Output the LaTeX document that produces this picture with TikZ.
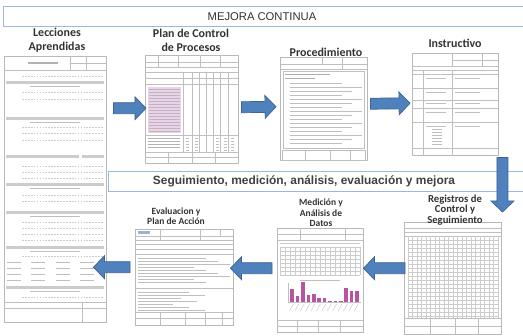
\documentclass[tikz,border=0pt]{standalone}
\usepackage{fontspec}
\setmainfont{Carlito}
\newfontfamily\arial{Liberation Sans}
\usetikzlibrary{calc}

\definecolor{azulflecha}{RGB}{79,129,189}
\definecolor{bordeflecha}{RGB}{60,100,152}
\definecolor{marco}{RGB}{155,185,220}
\definecolor{rosa}{RGB}{236,208,236}
\definecolor{barrarosa}{RGB}{185,85,160}

\newcommand{\tgrande}{\bfseries\fontsize{10.2}{12}\selectfont}
\newcommand{\tmedio}{\bfseries\fontsize{9.1}{9.2}\selectfont}
\newcommand{\tchico}{\bfseries\fontsize{8.1}{9}\selectfont}

\tikzset{
  hoja/.style 2 args={draw=gray!55, fill=white, inner sep=0pt, anchor=north west,
    minimum width=#1*0.03cm, minimum height=#2*0.03cm},
  renglon/.style={gray!50, line width=0.3pt},
  punteado/.style={gray!40, dash pattern=on 1.5pt off 1pt, line width=0.3pt},
  rejilla/.style={gray!40, line width=0.25pt},
  titulo/.style={align=center, text=black!80, inner sep=0pt},
  bloque/.style={fill=azulflecha, draw=bordeflecha, line width=0.6pt},
}

% flecha de bloque de #1 a #2
\newcommand{\flecha}[2]{%
  \coordinate (fa) at #1;
  \coordinate (fb) at #2;
  \coordinate (fh) at ($(fb)!9.4pt!(fa)$);
  \filldraw[bloque] ($(fa)!4.7pt!90:(fb)$) -- ($(fh)!4.7pt!-90:(fa)$) -- ($(fh)!9.8pt!-90:(fa)$)
    -- (fb) -- ($(fh)!9.8pt!90:(fa)$) -- ($(fh)!4.7pt!90:(fa)$) -- ($(fa)!4.7pt!-90:(fb)$) -- cycle;}

\begin{document}
\begin{tikzpicture}[x=0.03cm, y=-0.03cm]
  \useasboundingbox (0,0) rectangle (523,336);
  \fill[white] (0,0) rectangle (523,336);

  % bandas
  \draw[marco, line width=0.8pt] (3,6) rectangle (540,26);
  \node[font=\arial\fontsize{9.6}{11}\selectfont, text=black!80] (mejora) at (262,16.5) {MEJORA CONTINUA};
  \draw[marco, line width=0.8pt] (108,171) rectangle (540,191);
  \node[font=\arial\bfseries\fontsize{10.2}{11}\selectfont, text=black!75] (seguim) at (304,181)
    {Seguimiento, medición, análisis, evaluación y mejora};

  % Lecciones aprendidas
  \node[hoja={102}{266}] (lecc) at (4,56) {};
  \draw[renglon] (4,70) -- (106,70) (70,56) -- (70,70) (86,56) -- (86,70) (70,63) -- (106,63);
  \fill[gray!60] (28,62) rectangle (58,64);
  \foreach \y in {81,117,183,211,246,286} \fill[gray!40] (6,\y) rectangle (104,\y+3);
  \fill[gray!40] (6,155) rectangle (79,158);
  \fill[gray!40] (82,155) rectangle (104,158);
  \foreach \y in {86,122,188,216,251,291} \draw[renglon] (30,\y) -- (80,\y);
  \foreach \y in {76,92,99,127,133,140,166,172,178,195,201,222,228,234,240,256,297}
    \draw[punteado] (22,\y) -- (104,\y);
  \foreach \y in {262,268,274,280} \foreach \x in {7,31,56,80}
    \draw[renglon] (\x,\y) -- (\x+14,\y);
  \draw[renglon] (4,302) -- (106,302) (4,308) -- (106,308) (82,302) -- (82,322);

  % Plan de control
  \node[hoja={93}{108}] (plan) at (145,55) {};
  \foreach \y in {62,67,72,78,84,135,152,157} \draw[renglon] (145,\y) -- (238,\y);
  \foreach \x in {158,178,200,220} \draw[renglon] (\x,55) -- (\x,67);
  \foreach \x in {183,192,199,206,213,220,228} \draw[renglon] (\x,72) -- (\x,152);
  \fill[rosa] (148,87) rectangle (181,133);
  \foreach \y in {89,92,...,131} \draw[gray!55, line width=0.3pt] (149,\y) -- (180,\y);
  \foreach \y in {138,141,144,147} \draw[gray!60, line width=0.3pt] (148,\y) -- (180,\y);
  \foreach \x in {186,195,216,224,231} \foreach \y in {138,141,...,150}
    \draw[renglon] (\x,\y) -- (\x+3,\y);
  \foreach \x in {168,192,215} \draw[renglon] (\x,152) -- (\x,163);

  % Procedimiento
  \node[hoja={87}{103}] (proc) at (280,57) {};
  \draw[renglon] (280,64) -- (367,64) (280,69) -- (367,69) (322,57) -- (322,64) (342,57) -- (342,69);
  \draw[renglon] (283,71) rectangle (364,148);
  \draw[gray!65, line width=0.4pt] (285,74) -- (330,74) (285,78) -- (315,78);
  \foreach \y in {83,87,...,145} \draw[renglon] (290,\y) -- ({362-mod(\y,3)*10},\y);
  \draw[renglon] (282,150) rectangle (365,160) (305,150) -- (305,160) (330,150) -- (330,160) (350,150) -- (350,160);

  % Instructivo
  \node[hoja={86}{102}] (inst) at (412,53) {};
  \draw[renglon] (452,53) -- (452,66) (482,53) -- (482,66) (452,60) -- (498,60);
  \foreach \y in {66,70,74,88,100,108,122,148} \draw[renglon] (412,\y) -- (498,\y);
  \foreach \x in {423,452} \draw[renglon] (\x,70) -- (\x,155);
  \foreach \y in {78,92,103,112,126} \draw[renglon] (426,\y) -- (446,\y) (455,\y) -- (480,\y);
  \foreach \y in {129,132,...,145} \draw[renglon] (432,\y) -- (442,\y);

  % Registros de control
  \node[hoja={97}{112}] (regi) at (404,222) {};
  \foreach \y in {228,232,236} \draw[renglon] (404,\y) -- (501,\y);
  \foreach \y in {240,244,...,316} \draw[rejilla] (408,\y) -- (498,\y);
  \foreach \x in {408,412.5,...,498} \draw[rejilla] (\x,236) -- (\x,318);
  \draw[renglon] (404,318) -- (501,318) (404,326) -- (501,326);
  \foreach \x in {430,455,478} \draw[renglon] (\x,318) -- (\x,334);

  % Medicion y analisis
  \node[hoja={86}{104}] (medi) at (277,228) {};
  \foreach \y in {234,240} \draw[renglon] (277,\y) -- (363,\y);
  \draw[renglon] (300,228) -- (300,240) (345,228) -- (345,240);
  \foreach \y in {243,247,...,275} \draw[rejilla] (280,\y) -- (360,\y);
  \foreach \x in {280,285,...,360} \draw[rejilla] (\x,247) -- (\x,275);
  \draw[renglon] (300,280) -- (340,280);
  \draw[renglon] (288,283) -- (288,302) -- (361,302);
  \foreach \h [count=\i] in {13,6,20,7,8,4.5,4.5,1.5,1.5,1.5,14,11,11}
    \fill[barrarosa] ({285+5.4*\i},302) rectangle ({288.5+5.4*\i},302-\h);
  \foreach \i in {1,...,13} \draw[gray!50, line width=0.3pt] ({288+5.4*\i},304) -- ({284+5.4*\i},311);
  \draw[renglon] (277,320) -- (363,320) (277,326) -- (363,326);
  \foreach \x in {297,318,340} \draw[renglon] (\x,320) -- (\x,332);

  % Evaluacion y plan de accion
  \node[hoja={98}{96}] (eval) at (135,229) {};
  \draw[renglon] (135,236) -- (233,236) (135,240) -- (233,240) (160,229) -- (160,240) (200,229) -- (200,240) (220,229) -- (220,236);
  \fill[azulflecha!60] (138,231) rectangle (150,234);
  \foreach \y in {244,249,254} \draw[renglon] (135,\y) -- (233,\y);
  \foreach \y in {258,261,...,282} \draw[gray!50, line width=0.3pt] (138,\y) -- ({230-mod(\y,4)*12},\y);
  \draw[renglon] (135,288) -- (233,288);
  \foreach \y in {292,295,...,310} \draw[gray!50, line width=0.3pt] (138,\y) -- ({205-mod(\y,5)*8},\y);
  \draw[renglon] (135,312) -- (233,312) (135,318) -- (233,318);
  \foreach \x in {160,185,205,222} \draw[renglon] (\x,312) -- (\x,325);

  % titulos
  \node[titulo, font=\tgrande] (tlecc) at (57,40) {Lecciones\\Aprendidas};
  \node[titulo, font=\tgrande] (tplan) at (191,40) {Plan de Control\\de Procesos};
  \node[titulo, font=\tgrande] (tproc) at (326,52) {Procedimiento};
  \node[titulo, font=\tgrande] (tinst) at (455,43) {Instructivo};
  \node[titulo, font=\tmedio] (tregi) at (455,210) {Registros de\\Control y\\Seguimiento};
  \node[titulo, font=\tchico] (tmedi) at (321,213) {Medición y\\Análisis de\\Datos};
  \node[titulo, font=\tchico] (teval) at (176,216) {Evaluacion y\\Plan de Acción};

  % flechas
  \flecha{($(lecc.east |- plan.west)+(7,-1)$)}{($(plan.west)+(1,-1)$)}
  \flecha{($(plan.east)+(3,-2)$)}{($(proc.west)+(-4,-2)$)}
  \flecha{($(proc.east)+(3,-5)$)}{($(inst.west)+(-2,-1)$)}
  \flecha{($(inst.south east)+(4,2)$)}{($(regi.north east)+(1,-10)$)}
  \flecha{($(regi.west)+(1,-10)$)}{($(medi.east)+(0,-12)$)}
  \flecha{($(medi.west)+(-5,-12)$)}{($(eval.east)+(-3,-9)$)}
  \flecha{($(eval.west)+(-5,-10)$)}{($(lecc.east |- eval.west)+(-13,-10)$)}
\end{tikzpicture}
\end{document}
